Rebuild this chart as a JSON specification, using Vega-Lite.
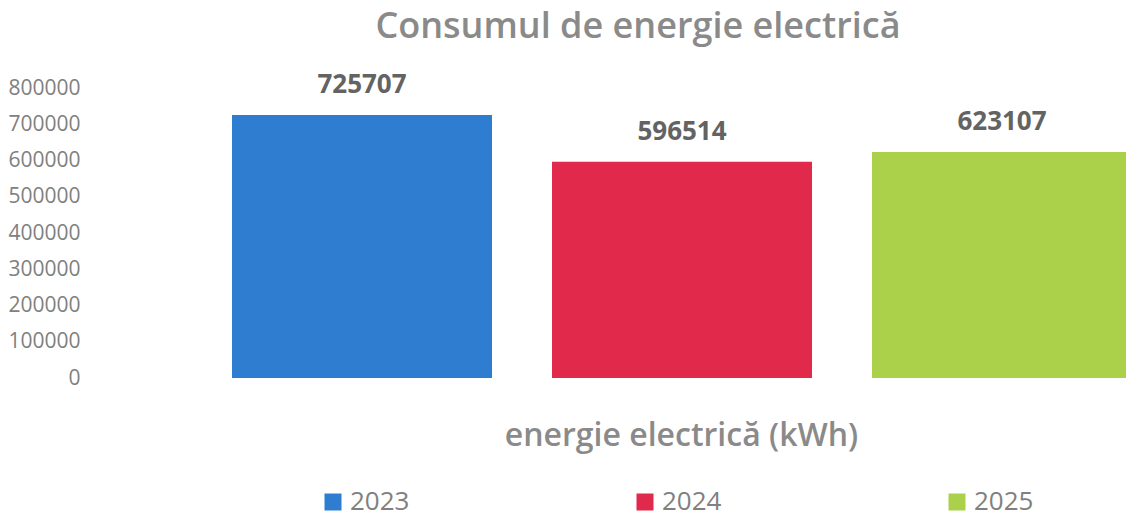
{
  "$schema": "https://vega.github.io/schema/vega-lite/v6.json",
  "autosize": {"type": "none"},
  "width": 1036,
  "height": 290,
  "padding": {"left": 90, "top": 88, "right": 0, "bottom": 139},
  "background": "white",
  "config": {"view": {"stroke": null}, "font": "Open Sans"},
  "title": {
    "text": "Consumul de energie electrică",
    "anchor": "middle",
    "frame": "group",
    "dx": 30,
    "fontSize": 36,
    "fontWeight": 600,
    "font": "Open Sans",
    "color": "#8a8a8a",
    "baseline": "alphabetic",
    "offset": -2
  },
  "data": {
    "values": [
      {"year": "2023", "kwh": 725707},
      {"year": "2024", "kwh": 596514},
      {"year": "2025", "kwh": 623107}
    ]
  },
  "encoding": {
    "x": {
      "field": "year",
      "type": "nominal",
      "sort": null,
      "scale": {"range": [0, 1184], "paddingInner": 0.1875, "paddingOuter": 0.44375},
      "axis": {
        "title": "energie electrică (kWh)",
        "labels": false,
        "ticks": false,
        "domain": false,
        "grid": false,
        "titleFont": "Open Sans",
        "titleFontSize": 32,
        "titleFontWeight": 600,
        "titleColor": "#8a8a8a",
        "titleBaseline": "alphabetic",
        "titlePadding": 67,
        "titleX": 591,
        "titleAlign": "center"
      }
    },
    "y": {
      "field": "kwh",
      "type": "quantitative",
      "scale": {"domain": [0, 800000], "nice": false, "zero": true},
      "axis": {
        "title": null,
        "values": [0, 100000, 200000, 300000, 400000, 500000, 600000, 700000, 800000],
        "format": "d",
        "ticks": false,
        "domain": false,
        "grid": false,
        "labelFont": "Open Sans",
        "labelFontSize": 21,
        "labelColor": "#808080",
        "labelPadding": 10
      }
    }
  },
  "layer": [
    {
      "mark": {"type": "bar", "clip": true},
      "encoding": {
        "color": {
          "field": "year",
          "type": "nominal",
          "scale": {"domain": ["2023", "2024", "2025"], "range": ["#2E7DD0", "#E0294B", "#ABD14B"]},
          "legend": {
            "title": null,
            "orient": "none",
            "legendX": 230,
            "legendY": 401,
            "direction": "horizontal",
            "columns": 3,
            "columnPadding": 222,
            "padding": 0,
            "symbolType": "square",
            "symbolSize": 289,
            "symbolStrokeWidth": 0,
            "symbolOpacity": 1,
            "labelFont": "Open Sans",
            "labelFontSize": 26,
            "labelColor": "#808080",
            "labelOffset": 4
          }
        }
      }
    },
    {
      "mark": {
        "type": "text",
        "baseline": "alphabetic",
        "dy": -22,
        "font": "Open Sans",
        "fontSize": 26,
        "fontWeight": "bold",
        "color": "#636363"
      },
      "encoding": {
        "text": {"field": "kwh", "type": "quantitative", "format": "d"}
      }
    }
  ]
}
